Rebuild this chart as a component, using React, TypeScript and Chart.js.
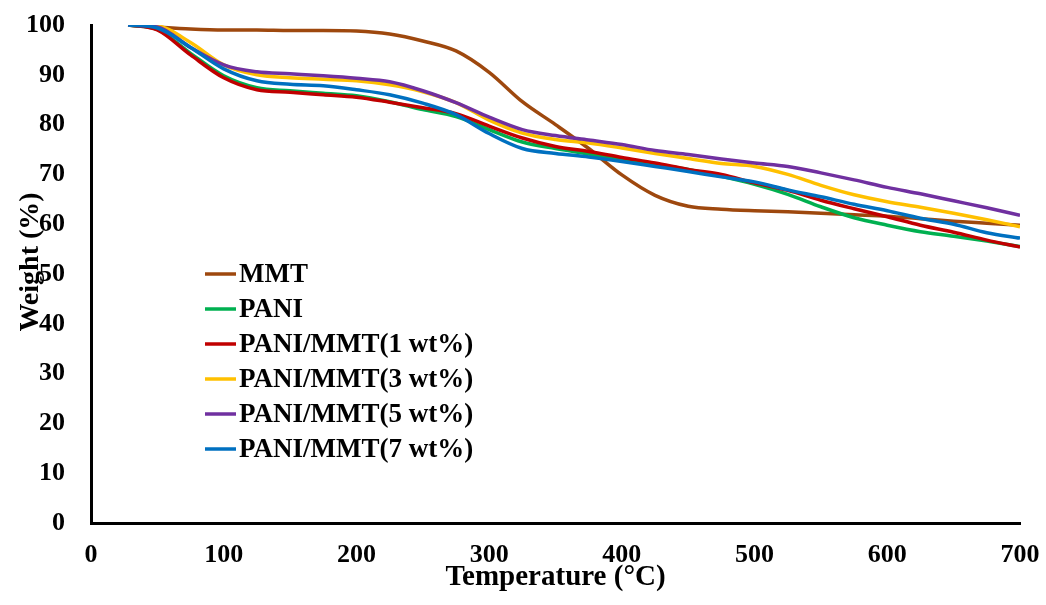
import React, { useEffect, useRef } from "react";
import { Chart, registerables } from "chart.js";

Chart.register(...registerables);

// Temperature grid (°C) shared by all TGA curves
const temperatures = [28, 50, 75, 100, 125, 150, 175, 200, 225, 250, 275, 300, 325, 350, 375, 400, 425, 450, 475, 500, 525, 550, 575, 600, 625, 650, 675, 700];

// Weight remaining (%) for each sample
const mmt = [100, 99.6, 99.2, 99.0, 99.0, 98.9, 98.9, 98.8, 98.2, 96.8, 94.8, 90.5, 84.6, 80.0, 75.2, 69.9, 65.8, 63.6, 63.0, 62.7, 62.5, 62.2, 61.9, 61.6, 61.1, 60.6, 60.2, 59.8];
const pani = [100, 99.1, 94.3, 89.8, 87.4, 86.8, 86.3, 85.8, 84.6, 83.0, 81.6, 79.0, 76.5, 75.2, 74.1, 73.0, 72.0, 71.0, 69.6, 68.0, 66.0, 63.5, 61.3, 59.8, 58.5, 57.6, 56.6, 55.5];
const pm1 = [100, 99.0, 94.0, 89.4, 87.0, 86.5, 86.0, 85.5, 84.5, 83.4, 82.2, 79.7, 77.3, 75.6, 74.6, 73.4, 72.3, 71.0, 70.0, 68.3, 66.8, 64.8, 63.1, 61.5, 59.8, 58.4, 56.8, 55.4];
const pm3 = [100, 99.8, 96.5, 92.0, 90.0, 89.4, 89.1, 88.8, 88.0, 86.6, 84.4, 80.9, 78.3, 77.0, 76.3, 75.3, 74.2, 73.2, 72.2, 71.6, 70.0, 67.8, 65.9, 64.5, 63.4, 62.2, 60.9, 59.5];
const pm5 = [100, 99.6, 95.5, 92.0, 90.6, 90.2, 89.8, 89.3, 88.6, 86.8, 84.4, 81.5, 79.0, 77.8, 76.9, 76.0, 74.8, 74.0, 73.1, 72.3, 71.6, 70.3, 68.9, 67.4, 66.1, 64.7, 63.3, 61.8];
const pm7 = [100, 99.4, 95.5, 91.2, 88.8, 88.1, 87.8, 87.0, 86.0, 84.3, 82.0, 78.2, 75.2, 74.2, 73.5, 72.6, 71.6, 70.6, 69.5, 68.5, 66.9, 65.5, 64.0, 62.7, 61.2, 60.0, 58.3, 57.2];

const seriesLabels = ["MMT", "PANI", "PANI/MMT(1 wt%)", "PANI/MMT(3 wt%)", "PANI/MMT(5 wt%)", "PANI/MMT(7 wt%)"];
const seriesValues = [mmt, pani, pm1, pm3, pm5, pm7];
const seriesColors = ["#9E480E", "#00B050", "#C00000", "#FFC000", "#7030A0", "#0070C0"];

const yTitle = "Weight (%)";
const xTitle = "Temperature (°C)";

const FONT = "'Liberation Serif', 'Times New Roman', serif";

// Legend inside the plot area as a vertical list of line samples,
// plus the rotated y-axis title placed slightly above the axis midpoint
const insideLegend = {
  id: "insideLegend",
  afterDraw(chart: any) {
    const { ctx, chartArea } = chart;
    const x0 = chartArea.left + 114;
    const y0 = chartArea.top + 249;
    const step = 35;
    ctx.save();
    ctx.font = `bold 27px ${FONT}`;
    ctx.textBaseline = "middle";
    ctx.textAlign = "left";
    chart.data.datasets.forEach((ds: any, i: number) => {
      const y = y0 + i * step;
      ctx.strokeStyle = ds.borderColor;
      ctx.lineWidth = 3.5;
      ctx.beginPath();
      ctx.moveTo(x0, y);
      ctx.lineTo(x0 + 31, y);
      ctx.stroke();
      ctx.fillStyle = "#000";
      ctx.fillText(ds.label, x0 + 34, y + 1);
    });

    ctx.translate(31, chartArea.top + 237);
    ctx.rotate(-Math.PI / 2);
    ctx.font = `bold 28px ${FONT}`;
    ctx.textAlign = "center";
    ctx.fillText(yTitle, 0, 0);
    ctx.restore();
  },
};

export default function App() {
  const canvasRef = useRef<HTMLCanvasElement>(null);

  useEffect(() => {
    if (!canvasRef.current) return;
    const datasets = seriesLabels.map((label, i) => ({
      label,
      data: temperatures.map((t, j) => ({ x: t, y: seriesValues[i][j] })),
      borderColor: seriesColors[i],
      backgroundColor: seriesColors[i],
      borderWidth: 3.5,
      pointRadius: 0,
      cubicInterpolationMode: "monotone" as const,
      fill: false,
      order: seriesLabels.length - i,
    }));

    const chart = new Chart(canvasRef.current, {
      type: "line",
      data: { datasets },
      options: {
        animation: false,
        responsive: false,
        devicePixelRatio: 1,
        layout: { padding: { left: 0, top: 25, right: 26, bottom: 0 } },
        plugins: { legend: { display: false }, tooltip: { enabled: false } },
        scales: {
          x: {
            type: "linear",
            min: 0,
            max: 700,
            afterFit: (scale: any) => {
              scale.height = 82;
              scale.paddingLeft = 0;
              scale.paddingRight = 0;
            },
            ticks: {
              stepSize: 100,
              padding: 17,
              color: "#000",
              font: { family: FONT, size: 26, weight: "bold" },
            },
            grid: { display: true, drawOnChartArea: false, drawTicks: false },
            border: { display: true, color: "#000", width: 3 },
            title: {
              display: true,
              text: xTitle,
              color: "#000",
              font: { family: FONT, size: 29, weight: "bold" },
              padding: { top: 0, bottom: 10 },
            },
          },
          y: {
            min: 0,
            max: 100,
            afterFit: (scale: any) => {
              scale.width = 91;
              scale.paddingTop = 0;
              scale.paddingBottom = 0;
            },
            ticks: {
              stepSize: 10,
              padding: 26,
              color: "#000",
              font: { family: FONT, size: 26, weight: "bold" },
            },
            grid: { display: true, drawOnChartArea: false, drawTicks: false },
            border: { display: true, color: "#000", width: 3 },
          },
        },
      },
      plugins: [insideLegend],
    });
    return () => chart.destroy();
  }, []);

  return (
    <div style={{ position: "absolute", left: 0, top: 0, width: 1046, height: 605, background: "#fff" }}>
      <canvas ref={canvasRef} width={1046} height={605} />
    </div>
  );
}
